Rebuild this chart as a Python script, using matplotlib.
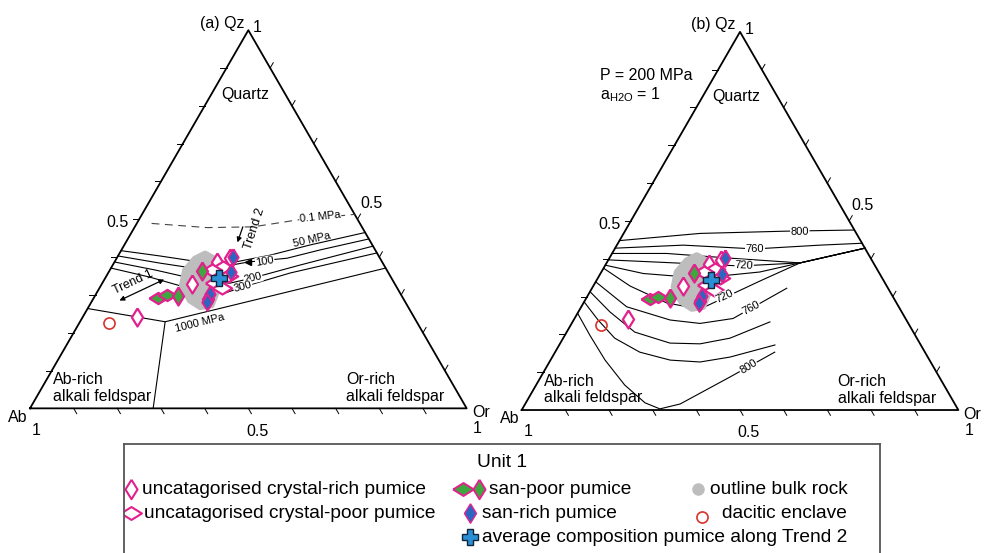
import numpy as np
import matplotlib
matplotlib.use('Agg')
import matplotlib.pyplot as plt
from matplotlib.patches import Polygon

plt.rcParams['font.family'] = ['Liberation Sans', 'DejaVu Sans']
plt.rcParams['mathtext.fontset'] = 'custom'
plt.rcParams['mathtext.rm'] = 'Liberation Sans'

# ---------------- data: compositions as (Qz, Or) fractions, Ab = 1 - Qz - Or
enclave_qz = [0.225]
enclave_or = [0.069]
rich_qz = [0.242, 0.329, 0.387, 0.289, 0.397]
rich_or = [0.123, 0.206, 0.235, 0.263, 0.259]
poor_qz = [0.374, 0.331, 0.318, 0.350, 0.366]
poor_or = [0.255, 0.258, 0.281, 0.279, 0.234]
sanpoor_wide_qz = [0.293, 0.300]
sanpoor_wide_or = [0.147, 0.163]
sanpoor_tall_qz = [0.296, 0.363]
sanpoor_tall_or = [0.192, 0.213]
sanrich_qz = [0.401, 0.361, 0.302, 0.282]
sanrich_or = [0.264, 0.279, 0.262, 0.265]
avg_qz = [0.345]
avg_or = [0.260]
bulk_qz = [0.410, 0.396, 0.370, 0.312, 0.272, 0.267, 0.285, 0.325, 0.365, 0.396]
bulk_or = [0.196, 0.225, 0.250, 0.274, 0.280, 0.256, 0.223, 0.185, 0.172, 0.179]

# (a) cotectic lines at different pressures
iso_01 = [(0.489, 0.034), (0.478, 0.166), (0.480, 0.271), (0.498, 0.362), (0.513, 0.487)]
iso_50 = [(0.417, 0.0), (0.403, 0.096), (0.387, 0.196), (0.387, 0.276), (0.405, 0.347),
          (0.432, 0.425), (0.465, 0.535)]
iso_100 = [(0.403, 0.0), (0.384, 0.106), (0.366, 0.218), (0.387, 0.306), (0.397, 0.390),
           (0.419, 0.455), (0.448, 0.552)]
iso_200 = [(0.387, 0.0), (0.366, 0.103), (0.339, 0.220), (0.331, 0.292), (0.345, 0.338),
           (0.379, 0.429), (0.429, 0.571)]
iso_300 = [(0.371, 0.0), (0.347, 0.101), (0.313, 0.221), (0.305, 0.294), (0.321, 0.327),
           (0.358, 0.417), (0.411, 0.589)]
iso_1000 = [(0.264, 0.0), (0.229, 0.195), (0.371, 0.629)]
fsp_split = [(0.229, 0.195), (0.0, 0.282)]

# (b) liquidus isotherms at 200 MPa
t800_up = [(0.448, 0.0), (0.467, 0.175), (0.473, 0.370), (0.476, 0.524)]
t760_up = [(0.428, 0.0), (0.436, 0.152), (0.426, 0.321), (0.436, 0.465), (0.441, 0.559)]
t_a = [(0.414, 0.0), (0.414, 0.125), (0.401, 0.284), (0.389, 0.443), (0.428, 0.572)]
t720_up = [(0.397, 0.0), (0.392, 0.098), (0.381, 0.310), (0.389, 0.443), (0.428, 0.572)]
t_b = [(0.383, 0.0), (0.361, 0.098), (0.349, 0.234), (0.365, 0.363), (0.389, 0.443),
       (0.428, 0.572)]
t720_lo = [(0.375, 0.0), (0.328, 0.084), (0.283, 0.191), (0.267, 0.275), (0.341, 0.375),
           (0.389, 0.443), (0.428, 0.572)]
t760_lo = [(0.339, 0.0), (0.273, 0.104), (0.238, 0.221), (0.229, 0.294), (0.242, 0.363),
           (0.322, 0.446)]
t_c = [(0.313, 0.0), (0.259, 0.073), (0.206, 0.156), (0.177, 0.251), (0.175, 0.321),
       (0.190, 0.382), (0.233, 0.452)]
t_d = [(0.286, 0.0), (0.238, 0.056), (0.190, 0.118), (0.153, 0.194), (0.132, 0.274),
       (0.127, 0.345), (0.140, 0.407), (0.172, 0.494)]
t800_lo = [(0.256, 0.0), (0.198, 0.057), (0.132, 0.125), (0.066, 0.203), (0.019, 0.273),
           (0.003, 0.315), (0.016, 0.355), (0.087, 0.433), (0.153, 0.503)]

H = np.sqrt(3) / 2
MAG = '#e2218e'
GREEN = '#3ea83e'
BLUE = '#2a66c2'
TALL = [(0, 1), (0.62, 0), (0, -1), (-0.62, 0), (0, 1)]
WIDE = [(-1, 0), (0, 0.62), (1, 0), (0, -0.62), (-1, 0)]
FS = 11.5


def tern(qz, orr):
    qz = np.asarray(qz, dtype=float)
    orr = np.asarray(orr, dtype=float)
    return orr + qz / 2, qz * H


def line(ax, pts, **kw):
    qz, orr = zip(*pts)
    x, y = tern(qz, orr)
    kw.setdefault('color', 'k')
    ax.plot(x, y, lw=0.8, **kw)


def label(ax, qz, orr, s, rot=0, size=8, box=True):
    x, y = tern(qz, orr)
    bb = dict(fc='white', ec='none', pad=0.3) if box else None
    ax.text(x, y, s, fontsize=size, rotation=rot, ha='center', va='center',
            rotation_mode='anchor', bbox=bb, zorder=6)


def frame(ax, tag):
    ax.set_xlim(-0.06, 1.06)
    ax.set_ylim(-0.1, 0.92)
    ax.axis('off')
    ax.plot([0, 1, 0.5, 0], [0, 0, H, 0], color='k', lw=1.3)
    tl = 0.014
    for t in np.arange(1, 10) / 10:
        x, y = tern(t, 0)
        ax.plot([x, x - tl], [y, y], color='k', lw=0.7)
        x, y = tern(t, 1 - t)
        ax.plot([x, x + tl * 0.5], [y, y + tl * H], color='k', lw=0.7)
        x, y = tern(0, t)
        ax.plot([x, x + tl * 0.5], [y, y - tl * H], color='k', lw=0.7)
    ax.text(0.49, 0.882, tag + ' Qz', fontsize=FS, ha='right', va='center')
    ax.text(0.52, 0.872, '1', fontsize=FS, ha='center', va='center')
    ax.text(-0.005, -0.02, 'Ab', fontsize=FS, ha='right', va='center')
    ax.text(0.014, -0.05, '1', fontsize=FS, ha='center', va='center')
    ax.text(1.012, -0.01, 'Or', fontsize=FS, ha='left', va='center')
    ax.text(1.024, -0.046, '1', fontsize=FS, ha='center', va='center')
    ax.text(0.226, 0.425, '0.5', fontsize=FS, ha='right', va='center')
    ax.text(0.781, 0.469, '0.5', fontsize=FS, ha='center', va='center')
    ax.text(0.52, -0.052, '0.5', fontsize=FS, ha='center', va='center')
    x, y = tern(0.83, 0.077)
    ax.text(x, y, 'Quartz', fontsize=FS, ha='center', va='center')
    x, y = tern(0.054, 0.025)
    ax.text(x, y, 'Ab-rich\nalkali feldspar', fontsize=FS, ha='left', va='center',
            linespacing=1.15)
    x, y = tern(0.053, 0.697)
    ax.text(x, y, 'Or-rich\nalkali feldspar', fontsize=FS, ha='left', va='center',
            linespacing=1.15)


def samples(ax):
    bx, by = tern(bulk_qz, bulk_or)
    ax.add_patch(Polygon(np.column_stack([bx, by]), closed=True, fc='#bdbdbd',
                         ec='#bdbdbd', lw=4, joinstyle='round', zorder=3))
    x, y = tern(enclave_qz, enclave_or)
    ax.plot(x, y, 'o', ms=8, mfc='none', mec='#d8322c', mew=1.2, zorder=4)
    x, y = tern(rich_qz, rich_or)
    ax.plot(x, y, ls='none', marker=TALL, ms=13, mfc='white', mec=MAG, mew=1.6, zorder=4)
    x, y = tern(poor_qz, poor_or)
    ax.plot(x, y, ls='none', marker=WIDE, ms=14, mfc='white', mec=MAG, mew=1.6, zorder=4)
    x, y = tern(sanpoor_wide_qz, sanpoor_wide_or)
    ax.plot(x, y, ls='none', marker=WIDE, ms=13, mfc=GREEN, mec=MAG, mew=1.6, zorder=4)
    x, y = tern(sanpoor_tall_qz, sanpoor_tall_or)
    ax.plot(x, y, ls='none', marker=TALL, ms=13, mfc=GREEN, mec=MAG, mew=1.6, zorder=4)
    x, y = tern(sanrich_qz, sanrich_or)
    ax.plot(x, y, ls='none', marker=TALL, ms=12, mfc=BLUE, mec=MAG, mew=1.4, zorder=4)
    x, y = tern(avg_qz, avg_or)
    ax.plot(x, y, ls='none', marker='P', ms=11, mfc='#2b8fd6', mec='#10243a', mew=1.0,
            zorder=5)


fig = plt.figure(figsize=(9.88, 5.53), dpi=100)

# ---------------- (a)
ax1 = fig.add_axes([0.00385, 0.1826, 0.4950, 0.8054])
frame(ax1, '(a)')
line(ax1, iso_01, ls=(0, (7, 5)), color='#444444')
for pts in (iso_50, iso_100, iso_200, iso_300, iso_1000, fsp_split):
    line(ax1, pts)
samples(ax1)
label(ax1, 0.507, 0.411, '0.1 MPa', rot=6)
label(ax1, 0.447, 0.421, '50 MPa', rot=13, box=False)
label(ax1, 0.388, 0.344, '100', rot=10)
label(ax1, 0.345, 0.338, '200', rot=13)
label(ax1, 0.321, 0.327, '300', rot=15)
label(ax1, 0.226, 0.275, '1000 MPa', rot=14, box=False)
label(ax1, 0.334, 0.069, 'Trend 1', rot=25, size=9, box=False)
label(ax1, 0.474, 0.278, 'Trend 2', rot=72, size=9, box=False)
x, y = tern([0.282, 0.344], [0.058, 0.141])
ax1.annotate('', xy=(x[0], y[0]), xytext=(x[1], y[1]),
             arrowprops=dict(arrowstyle='<|-|>', color='k', lw=0.9, mutation_scale=7))
x, y = tern([0.487, 0.432], [0.246, 0.257])
ax1.annotate('', xy=(x[1], y[1]), xytext=(x[0], y[0]),
             arrowprops=dict(arrowstyle='-|>', color='k', lw=0.9, mutation_scale=7))
x, y = tern(0.387, 0.306)
ax1.plot(x, y, marker='<', ms=4, color='k', zorder=6)

# ---------------- (b)
ax2 = fig.add_axes([0.5015, 0.1796, 0.4950, 0.8054])
frame(ax2, '(b)')
for pts in (t800_up, t760_up, t_a, t720_up, t_b, t720_lo, t760_lo, t_c, t_d, t800_lo):
    line(ax2, pts)
samples(ax2)
label(ax2, 0.472, 0.401, '800', rot=1)
label(ax2, 0.426, 0.321, '760', rot=0)
label(ax2, 0.383, 0.318, '720', rot=-3)
label(ax2, 0.301, 0.315, '720', rot=25)
label(ax2, 0.270, 0.390, '760', rot=28)
label(ax2, 0.114, 0.462, '800', rot=32)
ax2.text(0.179, 0.767, 'P = 200 MPa', fontsize=FS, ha='left', va='center')
ax2.text(0.179, 0.722, r'a$_{\mathregular{H2O}}$ = 1', fontsize=FS, ha='left', va='center')

# ---------------- legend box
lg = fig.add_axes([124 / 988, -0.02, 756 / 988, 109 / 553 + 0.02])
lg.set_xlim(0, 1)
lg.set_ylim(0, 1)
lg.set_xticks([])
lg.set_yticks([])
lg.patch.set_alpha(0)
for s in ('top', 'left', 'right'):
    lg.spines[s].set_color('#555555')
    lg.spines[s].set_linewidth(1.3)
lg.spines['bottom'].set_visible(False)
fs = 13.8
r1, r2, r3 = 0.625, 0.425, 0.225
lg.text(0.5, 0.842, 'Unit 1', fontsize=fs, ha='center', va='center')
lg.plot(0.009, r1, ls='none', marker=TALL, ms=14, mfc='white', mec=MAG, mew=1.5)
lg.text(0.0235, r1, 'uncatagorised crystal-rich pumice', fontsize=fs, va='center')
lg.plot(0.0093, r2, ls='none', marker=WIDE, ms=15, mfc='white', mec=MAG, mew=1.5)
lg.text(0.0269, r2, 'uncatagorised crystal-poor pumice', fontsize=fs, va='center')
lg.plot(0.448, r1, ls='none', marker=WIDE, ms=15, mfc=GREEN, mec=MAG, mew=1.4)
lg.plot(0.4696, r1, ls='none', marker=TALL, ms=14, mfc=GREEN, mec=MAG, mew=1.4)
lg.text(0.4828, r1, 'san-poor pumice', fontsize=fs, va='center')
lg.plot(0.458, r2, ls='none', marker=TALL, ms=14, mfc=BLUE, mec=MAG, mew=1.0)
lg.text(0.473, r2, 'san-rich pumice', fontsize=fs, va='center')
lg.plot(0.458, r3, ls='none', marker='P', ms=12, mfc='#2b8fd6', mec='#10243a', mew=1.0)
lg.text(0.473, r3, 'average composition pumice along Trend 2', fontsize=fs, va='center')
lg.plot(0.759, r1, ls='none', marker='o', ms=8, mfc='#bdbdbd', mec='#bdbdbd')
lg.text(0.7746, r1, 'outline bulk rock', fontsize=fs, va='center')
lg.plot(0.765, r2 - 0.03, ls='none', marker='o', ms=8, mfc='none', mec='#d8322c', mew=1.2)
lg.text(0.7906, r2, 'dacitic enclave', fontsize=fs, va='center')

fig.savefig('out.png', dpi=100)
